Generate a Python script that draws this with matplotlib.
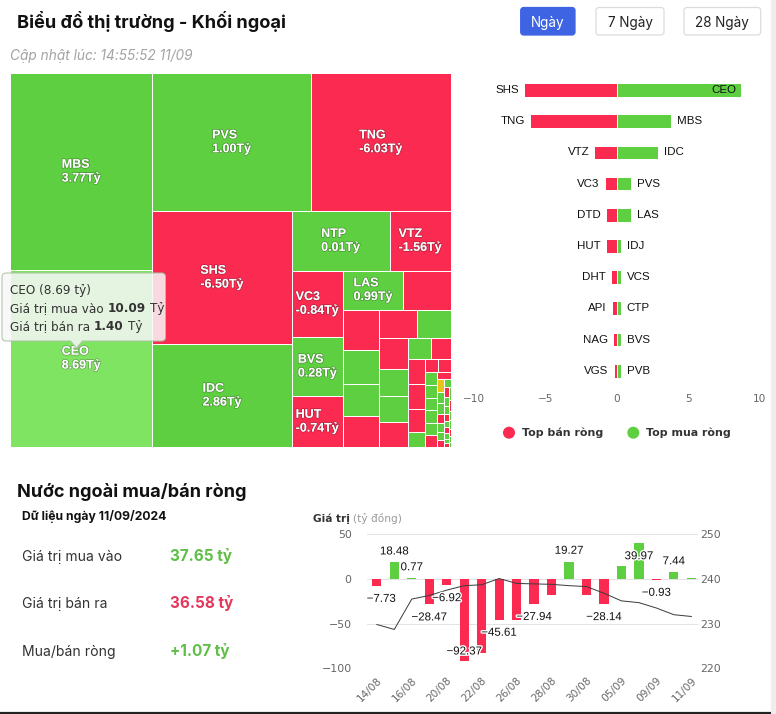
import math
import numpy as np
import matplotlib
matplotlib.use("Agg")
import matplotlib.pyplot as plt
from matplotlib import font_manager as fm
from matplotlib.patches import Rectangle, FancyBboxPatch, Circle, PathPatch
from matplotlib.path import Path
import matplotlib.patheffects as pe

# ---------------- data ----------------
TITLE = "Biểu đồ thị trường - Khối ngoại"
UPDATED = "Cập nhật lúc: 14:55:52 11/09"
BUTTONS = ["Ngày", "7 Ngày", "28 Ngày"]

# treemap – labelled cells (net value in tỷ) and their size weights
tm_names = ["MBS", "CEO", "PVS", "TNG", "SHS", "IDC", "NTP", "VTZ", "VC3", "BVS", "HUT", "LAS"]
tm_net = [3.77, 8.69, 1.00, -6.03, -6.50, 2.86, 0.01, -1.56, -0.84, 0.28, -0.74, 0.99]
tm_size = [27.99, 25.23, 21.90, 19.28, 18.47, 14.40, 5.80, 3.61, 3.42, 3.01, 2.63, 2.36]
# treemap – small unlabelled cells: size weights and flow direction (+1 buy, -1 sell, 0 flat)
tm_small_size = [1.875, 1.465, 1.235, 1.163, 1.116, 1.084, 0.945, 0.890, 0.800, 0.760,
                 0.750, 0.470, 0.414, 0.405, 0.389, 0.384, 0.240, 0.175, 0.165, 0.160,
                 0.158, 0.156, 0.154, 0.152, 0.150, 0.100, 0.092, 0.085, 0.078, 0.072,
                 0.066, 0.060, 0.055, 0.050, 0.046, 0.042, 0.038, 0.034, 0.031, 0.028,
                 0.025, 0.022, 0.020, 0.018, 0.016, 0.014, 0.012, 0.010, 0.009, 0.008]
tm_small_sign = [-1, -1, 1, 1, -1, -1, 1, -1, 1, 1,
                 -1, 1, -1, -1, -1, -1, 1, -1, -1, 1,
                 1, 1, 1, 1, -1, -1, 0, 1, 1, -1,
                 1, 1, -1, 1, -1, 1, 1, -1, 1, -1,
                 1, 1, -1, 1, -1, 1, 1, -1, 1, 1]

tooltip_name = "CEO"
tooltip_net = 8.69
tooltip_buy = 10.09
tooltip_sell = 1.40

sell_names = ["SHS", "TNG", "VTZ", "VC3", "DTD", "HUT", "DHT", "API", "NAG", "VGS"]
sell_vals = [-6.50, -6.03, -1.56, -0.84, -0.78, -0.74, -0.42, -0.34, -0.28, -0.21]
buy_names = ["CEO", "MBS", "IDC", "PVS", "LAS", "IDJ", "VCS", "CTP", "BVS", "PVB"]
buy_vals = [8.69, 3.77, 2.86, 1.00, 0.99, 0.31, 0.29, 0.29, 0.28, 0.27]
legend_labels = ["Top bán ròng", "Top mua ròng"]
bar_ticks = [-10, -5, 0, 5, 10]

SECTION = "Nước ngoài mua/bán ròng"
DATA_DATE = "Dữ liệu ngày 11/09/2024"
summary_labels = ["Giá trị mua vào", "Giá trị bán ra", "Mua/bán ròng"]
summary_vals = ["37.65 tỷ", "36.58 tỷ", "+1.07 tỷ"]

dates = ["14/08", "15/08", "16/08", "19/08", "20/08", "21/08", "22/08", "23/08", "26/08", "27/08",
         "28/08", "29/08", "30/08", "04/09", "05/09", "06/09", "09/09", "10/09", "11/09"]
net_flow = [-7.73, 18.48, 0.77, -28.47, -6.92, -92.37, -82.5, -45.61, -45.5, -27.94,
            -17.8, 19.27, -18.5, -28.14, 15.0, 39.97, -0.93, 7.44, 1.07]
index_close = [229.8, 228.7, 235.5, 236.3, 237.5, 238.5, 238.7, 240.1, 239.0, 238.9,
               238.8, 238.5, 238.3, 236.8, 235.1, 234.7, 233.5, 232.0, 231.6]
# which bar labels are visible (others hidden by overlap) and where: outside / inside bar end
label_shown = {0: "out", 1: "out", 2: "out", 3: "out", 4: "out", 5: "in", 7: "out",
               9: "out", 11: "out", 13: "out", 15: "in", 16: "out", 17: "out"}
left_ticks = [-100, -50, 0, 50]
right_ticks = [220, 230, 240, 250]

# ---------------- style ----------------
W_PX, H_PX, DPI = 776, 714, 100
PT = 72.0 / DPI
GREEN = "#5ecf40"
GREEN_HOVER = "#80e463"
RED = "#fb2a51"
YELLOW = "#e9c319"
UI = "Inter"
CH = "DejaVu Sans"
AR = "Liberation Sans"


def find_italic(prefs):
    for fam in prefs:
        for f in fm.fontManager.ttflist:
            if f.name == fam and f.style in ("italic", "oblique"):
                return fam
    return "DejaVu Sans"


ITAL = find_italic(["Inter", "Roboto", "Open Sans", "Lato", "Noto Sans", "Liberation Sans"])

fig = plt.figure(figsize=(W_PX / DPI, H_PX / DPI), dpi=DPI)
fig.patch.set_facecolor("white")


def px_axes(x0, y0, x1, y1, **kw):
    return fig.add_axes([x0 / W_PX, 1 - y1 / H_PX, (x1 - x0) / W_PX, (y1 - y0) / H_PX], **kw)


ov = px_axes(0, 0, W_PX, H_PX)
ov.set_xlim(0, W_PX)
ov.set_ylim(H_PX, 0)
ov.axis("off")
ov.set_zorder(20)


def T(x, y, s, px, **kw):
    kw.setdefault("va", "baseline")
    kw.setdefault("ha", "left")
    return ov.text(x, y, s, fontsize=px * PT, **kw)


renderer = fig.canvas.get_renderer()


def fit_text(x, y, s, px, target_w, **kw):
    t = T(x, y, s, px, **kw)
    w = t.get_window_extent(renderer=renderer).width
    if w > 0:
        t.set_fontsize(px * PT * target_w / w)
    return t


# ---------------- header ----------------
fit_text(16.7, 28.3, TITLE, 18, 270.0, family=UI, fontweight="bold", color="#111111")
fit_text(10.5, 60, UPDATED, 13.5, 182.5, family=ITAL, style="italic", color="#a3a3a3")

btn_boxes = [(520.7, 575.0), (596.0, 664.0), (684.0, 760.7)]
for (bx0, bx1), lab, active in zip(btn_boxes, BUTTONS, [True, False, False]):
    ov.add_patch(FancyBboxPatch((bx0, 7.5), bx1 - bx0, 27.5,
                                boxstyle="round,pad=0,rounding_size=3",
                                facecolor="#3e64e4" if active else "white",
                                edgecolor="#3e64e4" if active else "#dcdcdc", lw=0.9))
    T((bx0 + bx1) / 2, 21.5, lab, 13.5, family=UI, ha="center", va="center_baseline",
      color="white" if active else "#222222")

# right gray strip & bottom line
ov.add_patch(Rectangle((771, 0), 5, H_PX, facecolor="#eeeeee", edgecolor="none"))
ov.plot([0, 771], [713, 713], color="#222222", lw=2.2 * PT, solid_capstyle="butt")


# ---------------- treemap ----------------
def hc_squarified(W, H, values):
    nan = float("nan")
    tot = sum(values)
    areas = [W * H * v / tot for v in values]
    out = []
    st = {"x": 0.0, "y": 0.0}
    g = {"height": H, "width": W, "d": 0, "total": 0.0, "nW": 0.0, "lW": 0.0,
         "nH": 0.0, "lH": 0.0, "el": [], "nR": nan, "lR": nan}

    def dv(a, b):
        if math.isnan(a) or math.isnan(b):
            return nan
        if b == 0:
            return math.inf if a > 0 else (nan if a == 0 else -math.inf)
        return a / b

    def ar(w, h):
        r1, r2 = dv(w, h), dv(h, w)
        if math.isnan(r1) or math.isnan(r2):
            return nan
        return max(r1, r2)

    def add(a):
        lpt = g["el"][-1] if g["el"] else nan
        g["total"] += a
        if g["d"] == 0:
            g["lW"] = g["nW"]
            g["lR"] = ar(g["lW"], dv(lpt, g["lW"]))
            g["nW"] = g["total"] / g["height"]
            g["nR"] = ar(g["nW"], dv(lpt, g["nW"]))
        else:
            g["lH"] = g["nH"]
            g["lR"] = ar(dv(lpt, g["lH"]), g["lH"])
            g["nH"] = g["total"] / g["width"]
            g["nR"] = ar(dv(lpt, g["nH"]), g["nH"])
        g["el"].append(a)

    def calc(last):
        gW, gH = (g["nW"], g["nH"]) if last else (g["lW"], g["lH"])
        keep = None if last else g["el"][-1]
        n = len(g["el"])
        for i, p in enumerate(g["el"]):
            if last or i < n - 1:
                if g["d"] == 0:
                    w = gW
                    h = p / w
                    out.append((st["x"], st["y"], w, h))
                    st["y"] += h
                else:
                    h = gH
                    w = p / h
                    out.append((st["x"], st["y"], w, h))
                    st["x"] += w
        g["nW"] = g["lW"] = 0.0
        g["el"] = []
        g["total"] = 0.0
        if g["d"] == 0:
            g["width"] -= gW
        else:
            g["height"] -= gH
        st["y"] = H - g["height"]
        st["x"] = W - g["width"]
        g["d"] = 1 - g["d"]
        if not last:
            add(keep)

    for i, a in enumerate(areas):
        add(a)
        if g["nR"] > g["lR"]:
            calc(False)
        if i == len(areas) - 1:
            calc(True)
    return out


TX0, TY0, TX1, TY1 = 10.0, 73.3, 450.7, 447.3
TW, TH = TX1 - TX0, TY1 - TY0
tm_ax = px_axes(TX0, TY0, TX1, TY1)
tm_ax.set_xlim(0, TW)
tm_ax.set_ylim(TH, 0)
tm_ax.axis("off")

all_sizes = tm_size + tm_small_size
all_signs = [1 if v > 0 else -1 for v in tm_net] + tm_small_sign
rects = hc_squarified(TW, TH, all_sizes)
for k, ((x, y, w, h), s) in enumerate(zip(rects, all_signs)):
    if k < len(tm_names) and tm_names[k] == tooltip_name:
        col = GREEN_HOVER
    else:
        col = GREEN if s > 0 else (RED if s < 0 else YELLOW)
    tm_ax.add_patch(Rectangle((x, y), w, h, facecolor=col, edgecolor="white", lw=1.0 * PT))
for k, (name, v) in enumerate(zip(tm_names, tm_net)):
    x, y, w, h = rects[k]
    tm_ax.text(x + w / 2, y + h / 2, f"{name}\n{v:.2f}Tỷ", ha="center", va="center",
               multialignment="left", linespacing=1.2, color="white", family=AR,
               fontweight="bold", fontsize=12.5 * PT,
               path_effects=[pe.withStroke(linewidth=1.0, foreground=(0, 0, 0, 0.3))])

# tooltip (callout)
x0, y0, x1, y1, r, axp = 2.0, 273.0, 165.5, 341.0, 4.0, 76.5
verts = [(x0 + r, y0), (x1 - r, y0), (x1, y0), (x1, y0 + r), (x1, y1 - r), (x1, y1), (x1 - r, y1),
         (axp + 6, y1), (axp, y1 + 7), (axp - 6, y1), (x0 + r, y1), (x0, y1), (x0, y1 - r),
         (x0, y0 + r), (x0, y0), (x0 + r, y0), (x0 + r, y0)]
codes = [Path.MOVETO, Path.LINETO, Path.CURVE3, Path.CURVE3, Path.LINETO, Path.CURVE3, Path.CURVE3,
         Path.LINETO, Path.LINETO, Path.LINETO, Path.LINETO, Path.CURVE3, Path.CURVE3,
         Path.LINETO, Path.CURVE3, Path.CURVE3, Path.CLOSEPOLY]
ov.add_patch(PathPatch(Path(verts, codes), facecolor=(0.97, 0.97, 0.97, 0.86),
                       edgecolor="#a9c3a2", lw=1.0 * PT))


def run_text(x, y, parts, px, color, family):
    for s, wgt in parts:
        t = T(x, y, s, px, color=color, family=family, fontweight=wgt)
        x += t.get_window_extent(renderer=renderer).width
        sp1 = T(0, -50, "a a", px, family=family, fontweight=wgt)
        sp2 = T(0, -50, "aa", px, family=family, fontweight=wgt)
        x += sp1.get_window_extent(renderer=renderer).width - sp2.get_window_extent(renderer=renderer).width
        sp1.remove()
        sp2.remove()


run_text(10, 294, [(f"{tooltip_name} ({tooltip_net:.2f} tỷ)", "normal")], 12, "#333333", CH)
run_text(10, 312, [("Giá trị mua vào", "normal"), (f"{tooltip_buy:.2f}", "bold"), ("Tỷ", "normal")],
         12, "#333333", CH)
run_text(10, 330, [("Giá trị bán ra", "normal"), (f"{tooltip_sell:.2f}", "bold"), ("Tỷ", "normal")],
         12, "#333333", CH)

# ---------------- top net buy / sell bars ----------------
rx = px_axes(473.7, 74.4, 759.7, 386.3)
rows = np.arange(len(sell_names))
rx.barh(rows, sell_vals, height=0.44, color=RED, edgecolor="white", lw=1.0 * PT)
rx.barh(rows, buy_vals, height=0.44, color=GREEN, edgecolor="white", lw=1.0 * PT)
rx.set_xlim(-10, 10)
rx.set_ylim(len(rows) - 0.5, -0.5)
rx.set_xticks(bar_ticks)
rx.set_yticks([])
rx.tick_params(axis="x", length=0, pad=8 * PT, labelsize=10.5 * PT, labelcolor="#666666")
for lab in rx.get_xticklabels():
    lab.set_family(CH)
for sp in rx.spines.values():
    sp.set_visible(False)
for i, (n, v) in enumerate(zip(sell_names, sell_vals)):
    rx.annotate(n, (v, i), xytext=(-5 * PT, 0), textcoords="offset points", ha="right",
                va="center", fontsize=11.5 * PT, family=AR, color="#111111")
for i, (n, v) in enumerate(zip(buy_names, buy_vals)):
    inside = v > 0.75 * rx.get_xlim()[1]
    rx.annotate(n, (v, i), xytext=((-5 if inside else 6) * PT, 0), textcoords="offset points",
                ha="right" if inside else "left", va="center", fontsize=11.5 * PT, family=AR,
                color="#111111")

for cx, col, lab in zip([509.0, 633.3], [RED, GREEN], legend_labels):
    ov.add_patch(Circle((cx, 432.7), 6.0, facecolor=col, edgecolor="none"))
    T(cx + 12.7, 432.7, lab, 11, family=CH, fontweight="bold", color="#333333", va="center")

# ---------------- bottom-left summary ----------------
fit_text(16.7, 496.7, SECTION, 18, 229.5, family=UI, fontweight="bold", color="#111111")
fit_text(21.7, 520.3, DATA_DATE, 12, 144.0, family=UI, fontweight="bold", color="#111111")
val_colors = ["#5fbf46", "#e4385d", "#5fbf46"]
for j, (lab, val, c) in enumerate(zip(summary_labels, summary_vals, val_colors)):
    yb = 560.5 + j * 47.7
    T(21.7, yb, lab, 14, family=UI, color="#333333")
    T(169.5, yb, val, 15.3, family=UI, fontweight="bold", color=c)

# ---------------- bottom-right net flow chart ----------------
T(312.7, 521.5, "Giá trị", 10.5, family=CH, fontweight="bold", color="#333333")
T(352.7, 521.5, "(tỷ đồng)", 10.5, family=CH, color="#999999")

bx = px_axes(366.7, 534.3, 698.3, 668.3)
xi = np.arange(len(dates))
bx.bar(xi, net_flow, width=0.53, color=[GREEN if v >= 0 else RED for v in net_flow], zorder=2)
bx.set_xlim(-0.58, len(dates) - 0.6)
bx.set_ylim(left_ticks[0], left_ticks[-1])
bx.set_yticks(left_ticks)
bx.grid(axis="y", color="#e3e3e3", lw=1.0 * PT, zorder=0)
bx.set_axisbelow(True)
bx.set_xticks(xi[::2])
bx.set_xticklabels(dates[::2], rotation=45, ha="right", va="top", rotation_mode="anchor")
bx.tick_params(axis="x", length=0, pad=7 * PT, labelsize=10.5 * PT, labelcolor="#666666")
bx.tick_params(axis="y", length=0, pad=15 * PT, labelsize=11 * PT, labelcolor="#666666")
for lab in bx.get_xticklabels() + bx.get_yticklabels():
    lab.set_family(CH)
for sp in bx.spines.values():
    sp.set_visible(False)

bt = bx.twinx()
bt.plot(xi, index_close, color="#3d3d3d", lw=1.0 * PT, zorder=3)
bt.set_ylim(right_ticks[0], right_ticks[-1])
bt.set_yticks(right_ticks)
bt.tick_params(axis="y", length=0, pad=2 * PT, labelsize=11 * PT, labelcolor="#666666")
for lab in bt.get_yticklabels():
    lab.set_family(CH)
for sp in bt.spines.values():
    sp.set_visible(False)

labels = []
for i, mode in label_shown.items():
    v = net_flow[i]
    up = v >= 0
    if mode == "out":
        off = 11 if up else -13
    else:
        off = -13 if up else 10
    txt = f"{v:.2f}".replace("-", "\u2212")
    t = bt.annotate(txt, (xi[i], v), xycoords=bx.transData, xytext=(0, off * PT),
                    textcoords="offset points", ha="center", va="center", fontsize=11.5 * PT,
                    family=AR, color="#111111", zorder=5, annotation_clip=False,
                    path_effects=[pe.withStroke(linewidth=2.0, foreground="white")])
    labels.append(t)

# keep labels inside the plot area horizontally (justify like the source)
fig.canvas.draw()
abox = bx.get_window_extent(renderer=renderer)
for t in labels:
    bb = t.get_window_extent(renderer=renderer)
    if bb.x0 < abox.x0:
        dx = (abox.x0 - bb.x0) * PT
        ox, oy = t.xyann
        t.xyann = (ox + dx, oy)

fig.savefig("out.png", dpi=DPI, facecolor="white")
